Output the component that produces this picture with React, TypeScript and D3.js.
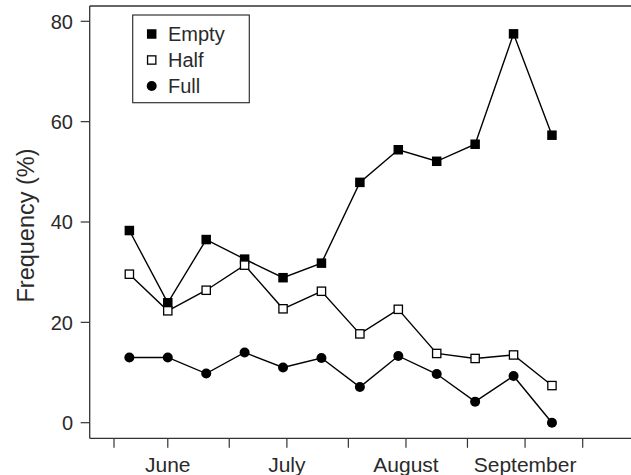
import React from "react";
import * as d3 from "d3";

// Sampling days (days after June 1)
const sampleDays = [4, 14, 24, 34, 44, 54, 64, 74, 84, 94, 104, 114];
const emptyValues = [38.3, 23.9, 36.5, 32.6, 28.9, 31.8, 47.9, 54.4, 52.1, 55.5, 77.5, 57.3];
const halfValues = [29.6, 22.3, 26.4, 31.4, 22.7, 26.2, 17.7, 22.6, 13.8, 12.8, 13.5, 7.4];
const fullValues = [13.0, 13.0, 9.8, 14.0, 11.0, 12.9, 7.1, 13.3, 9.7, 4.2, 9.3, 0];

const xTickDays = [0, 14, 30, 45, 61, 76, 92, 107, 122];
const monthLabelDays = [14, 45, 76, 107];
const monthLabels = ["June", "July", "August", "September"];
const yTicks = [0, 20, 40, 60, 80];

const seriesNames = ["Empty", "Half", "Full"];

const W = 631;
const H = 475;
const left = 89.7;
const top = 6;
const bottom = 438.3;
const FONT = "'Liberation Sans', Arial, Helvetica, sans-serif";
const TXT = "#2a2a2a";
const AX = "#333";

export default function App() {
  const x = d3.scaleLinear().domain([0, 122]).range([114, 582.7]);
  const y = d3.scaleLinear().domain([0, 80]).range([422.7, 21.3]);

  const line = d3
    .line<[number, number]>()
    .x((d) => x(d[0]))
    .y((d) => y(d[1]));

  const mk = (vals: number[]) => sampleDays.map((d, i) => [d, vals[i]] as [number, number]);
  const empty = mk(emptyValues);
  const half = mk(halfValues);
  const full = mk(fullValues);

  const sq = 9.5;

  const marker = (kind: string, cx: number, cy: number, key: any) => {
    if (kind === "Empty")
      return <rect key={key} x={cx - sq / 2} y={cy - sq / 2} width={sq} height={sq} fill="#000" />;
    if (kind === "Half")
      return (
        <rect
          key={key}
          x={cx - sq / 2 + 0.6}
          y={cy - sq / 2 + 0.6}
          width={sq - 1.2}
          height={sq - 1.2}
          fill="#fff"
          stroke="#000"
          strokeWidth={1.3}
        />
      );
    return <circle key={key} cx={cx} cy={cy} r={5} fill="#000" />;
  };

  const series: [string, [number, number][]][] = [
    ["Empty", empty],
    ["Half", half],
    ["Full", full],
  ];

  return (
    <svg
      width={W}
      height={H}
      style={{ position: "absolute", left: 0, top: 0, background: "#fff" }}
      fontFamily={FONT}
    >
      <rect x={0} y={0} width={W} height={H} fill="#fff" />
      {/* frame: top, left, bottom */}
      <line x1={left} x2={W} y1={top} y2={top} stroke={AX} strokeWidth={1.3} />
      <line x1={left} x2={left} y1={top} y2={bottom} stroke={AX} strokeWidth={1.3} />
      <line x1={left} x2={W} y1={bottom} y2={bottom} stroke={AX} strokeWidth={1.3} />

      {/* y ticks */}
      {yTicks.map((t) => (
        <g key={"y" + t}>
          <line x1={left - 9} x2={left} y1={y(t)} y2={y(t)} stroke={AX} strokeWidth={1.2} />
          <text x={73} y={y(t)} dy="0.36em" textAnchor="end" fontSize={20} fill={TXT}>
            {t}
          </text>
        </g>
      ))}

      {/* x ticks */}
      {xTickDays.map((d) => (
        <line key={"x" + d} x1={x(d)} x2={x(d)} y1={bottom} y2={bottom + 9.5} stroke={AX} strokeWidth={1.2} />
      ))}
      {monthLabelDays.map((d, i) => (
        <text key={"m" + i} x={x(d)} y={472} textAnchor="middle" fontSize={21} fill={TXT}>
          {monthLabels[i]}
        </text>
      ))}

      {/* y label */}
      <text
        transform={`translate(34,225.5) rotate(-90)`}
        textAnchor="middle"
        fontSize={23.5}
        fill={TXT}
      >
        Frequency (%)
      </text>

      {/* lines */}
      {series.map(([name, pts]) => (
        <path key={"l" + name} d={line(pts) || ""} fill="none" stroke="#000" strokeWidth={1.4} />
      ))}
      {/* markers */}
      {series.map(([name, pts]) => (
        <g key={"m" + name}>{pts.map((p, i) => marker(name, x(p[0]), y(p[1]), i))}</g>
      ))}

      {/* legend */}
      <rect x={132.7} y={15} width={116.6} height={87.7} fill="#fff" stroke={AX} strokeWidth={1.2} />
      {seriesNames.map((n, i) => (
        <g key={"lg" + n}>
          {marker(n, 151.7, 34 + i * 26, "lm" + i)}
          <text x={168} y={34 + i * 26} dy="0.36em" fontSize={20} fill={TXT}>
            {n}
          </text>
        </g>
      ))}
    </svg>
  );
}
